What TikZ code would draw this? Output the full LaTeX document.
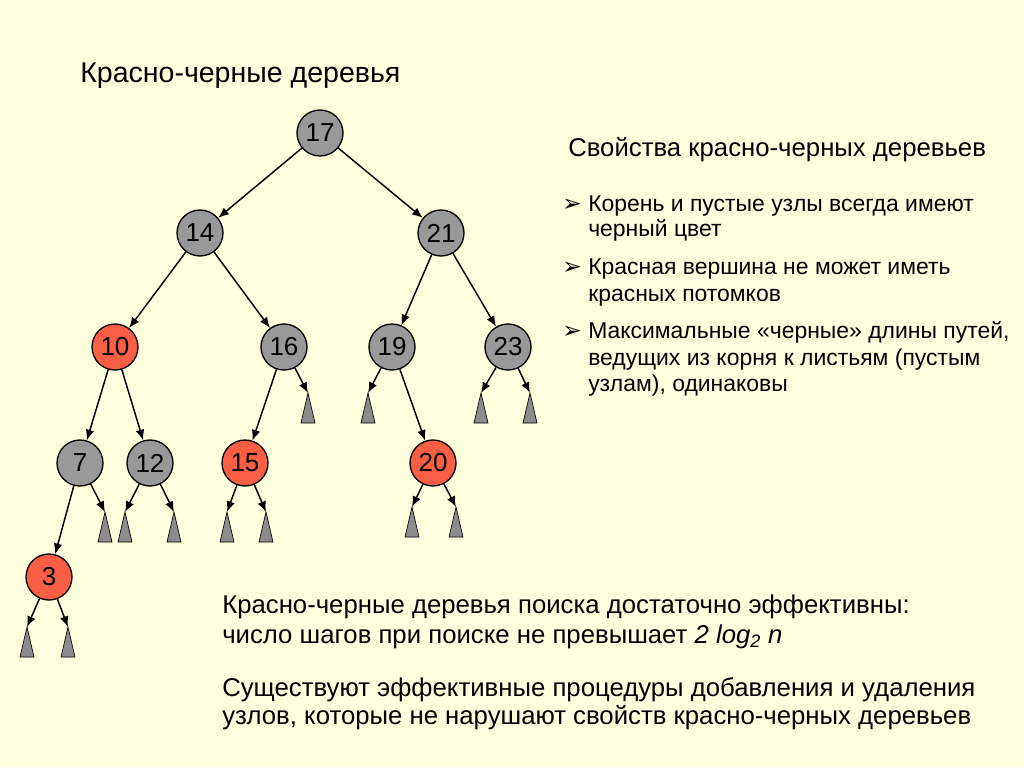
\documentclass[tikz,border=0pt]{standalone}
\usepackage{fontspec}
\setmainfont{Liberation Sans}
\newfontfamily\symfont{DejaVu Sans}
\usetikzlibrary{arrows.meta}
\definecolor{bg}{RGB}{255,255,221}
\definecolor{blk}{RGB}{153,153,153}
\definecolor{redn}{RGB}{250,95,70}
\definecolor{leafc}{RGB}{140,140,140}
\begin{document}
\begin{tikzpicture}[x=0.75pt,y=-0.75pt,
  tn/.style={circle,draw=black,line width=1pt,minimum size=34.5pt,inner sep=0pt,font=\fontsize{19.5}{20}\selectfont},
  bn/.style={tn,fill=blk},
  rn/.style={tn,fill=redn},
  edge/.style={draw=black,line width=1.1pt,-{Latex[length=8pt,width=6.5pt]}},
  leafshape/.style={fill=leafc,draw=black,line width=0.5pt},
  txt/.style={anchor=base west,inner sep=0pt},
  bt/.style={txt,font=\fontsize{17.2}{20}\selectfont},
  bul/.style={txt,font=\symfont\fontsize{17.5}{18}\selectfont},
  ct/.style={txt,font=\fontsize{19.3}{22}\selectfont}]
\fill[bg] (0,0) rectangle (1024,767);
\useasboundingbox (0,0) rectangle (1024,767);
% tree nodes
\node[bn] (n17) at (320,133) {17};
\node[bn] (n14) at (200,233) {14};
\node[bn] (n21) at (441,233) {21};
\node[rn] (n10) at (115,347) {10};
\node[bn] (n16) at (284,347) {16};
\node[bn] (n19) at (392,347) {19};
\node[bn] (n23) at (508,347) {23};
\node[bn] (n7) at (80,463) {7};
\node[bn] (n12) at (150,463) {12};
\node[rn] (n15) at (245,463) {15};
\node[rn] (n20) at (433,463) {20};
\node[rn] (n3) at (49,577) {3};
% leaves (apex coordinates)
\coordinate (l16) at (308,393);
\coordinate (l19) at (368,393);
\coordinate (l23a) at (481,393);
\coordinate (l23b) at (530,393);
\coordinate (l7) at (105,512);
\coordinate (l12a) at (125,512);
\coordinate (l12b) at (174,512);
\coordinate (l15a) at (227,512);
\coordinate (l15b) at (266,512);
\coordinate (l20a) at (412,507);
\coordinate (l20b) at (456,507);
\coordinate (l3a) at (27,627);
\coordinate (l3b) at (68,627);
\foreach \l in {l16,l19,l23a,l23b,l7,l12a,l12b,l15a,l15b,l20a,l20b,l3a,l3b}
  \draw[leafshape] (\l) -- ++(-7,30) -- ++(14,0) -- cycle;
% edges
\draw[edge] (n17) -- (n14);
\draw[edge] (n17) -- (n21);
\draw[edge] (n14) -- (n10);
\draw[edge] (n14) -- (n16);
\draw[edge] (n21) -- (n19);
\draw[edge] (n21) -- (n23);
\draw[edge] (n10) -- (n7);
\draw[edge] (n10) -- (n12);
\draw[edge] (n16) -- (n15);
\draw[edge] (n16) -- (l16);
\draw[edge] (n19) -- (l19);
\draw[edge] (n19) -- (n20);
\draw[edge] (n23) -- (l23a);
\draw[edge] (n23) -- (l23b);
\draw[edge] (n7) -- (n3);
\draw[edge] (n7) -- (l7);
\draw[edge] (n12) -- (l12a);
\draw[edge] (n12) -- (l12b);
\draw[edge] (n15) -- (l15a);
\draw[edge] (n15) -- (l15b);
\draw[edge] (n20) -- (l20a);
\draw[edge] (n20) -- (l20b);
\draw[edge] (n3) -- (l3a);
\draw[edge] (n3) -- (l3b);
% texts
\node[txt,font=\fontsize{21.4}{24}\selectfont] (title) at (80,83) {Красно-черные деревья};
\node[txt,font=\fontsize{19.3}{22}\selectfont] (props) at (568,156) {Свойства красно-черных деревьев};
\node[bul] (b1) at (562,211) {➢};
\node[bt] (p1a) at (588,211) {Корень и пустые узлы всегда имеют};
\node[bt] (p1b) at (588,236) {черный цвет};
\node[bul] (b2) at (562,274) {➢};
\node[bt] (p2a) at (588,274) {Красная вершина не может иметь};
\node[bt] (p2b) at (588,301) {красных потомков};
\node[bul] (b3) at (562,338) {➢};
\node[bt] (p3a) at (588,338) {Максимальные «черные» длины путей,};
\node[bt] (p3b) at (588,365) {ведущих из корня к листьям (пустым};
\node[bt] (p3c) at (588,391) {узлам), одинаковы};
\node[ct] (c1) at (222,613) {Красно-черные деревья поиска достаточно эффективны:};
\node[ct] (c2) at (222,643) {число шагов при поиске не превышает \textit{2 log\textsubscript{2} n}};
\node[ct] (c3) at (222,696) {Существуют эффективные процедуры добавления и удаления};
\node[ct] (c4) at (222,724) {узлов, которые не нарушают свойств красно-черных деревьев};
\end{tikzpicture}
\end{document}
